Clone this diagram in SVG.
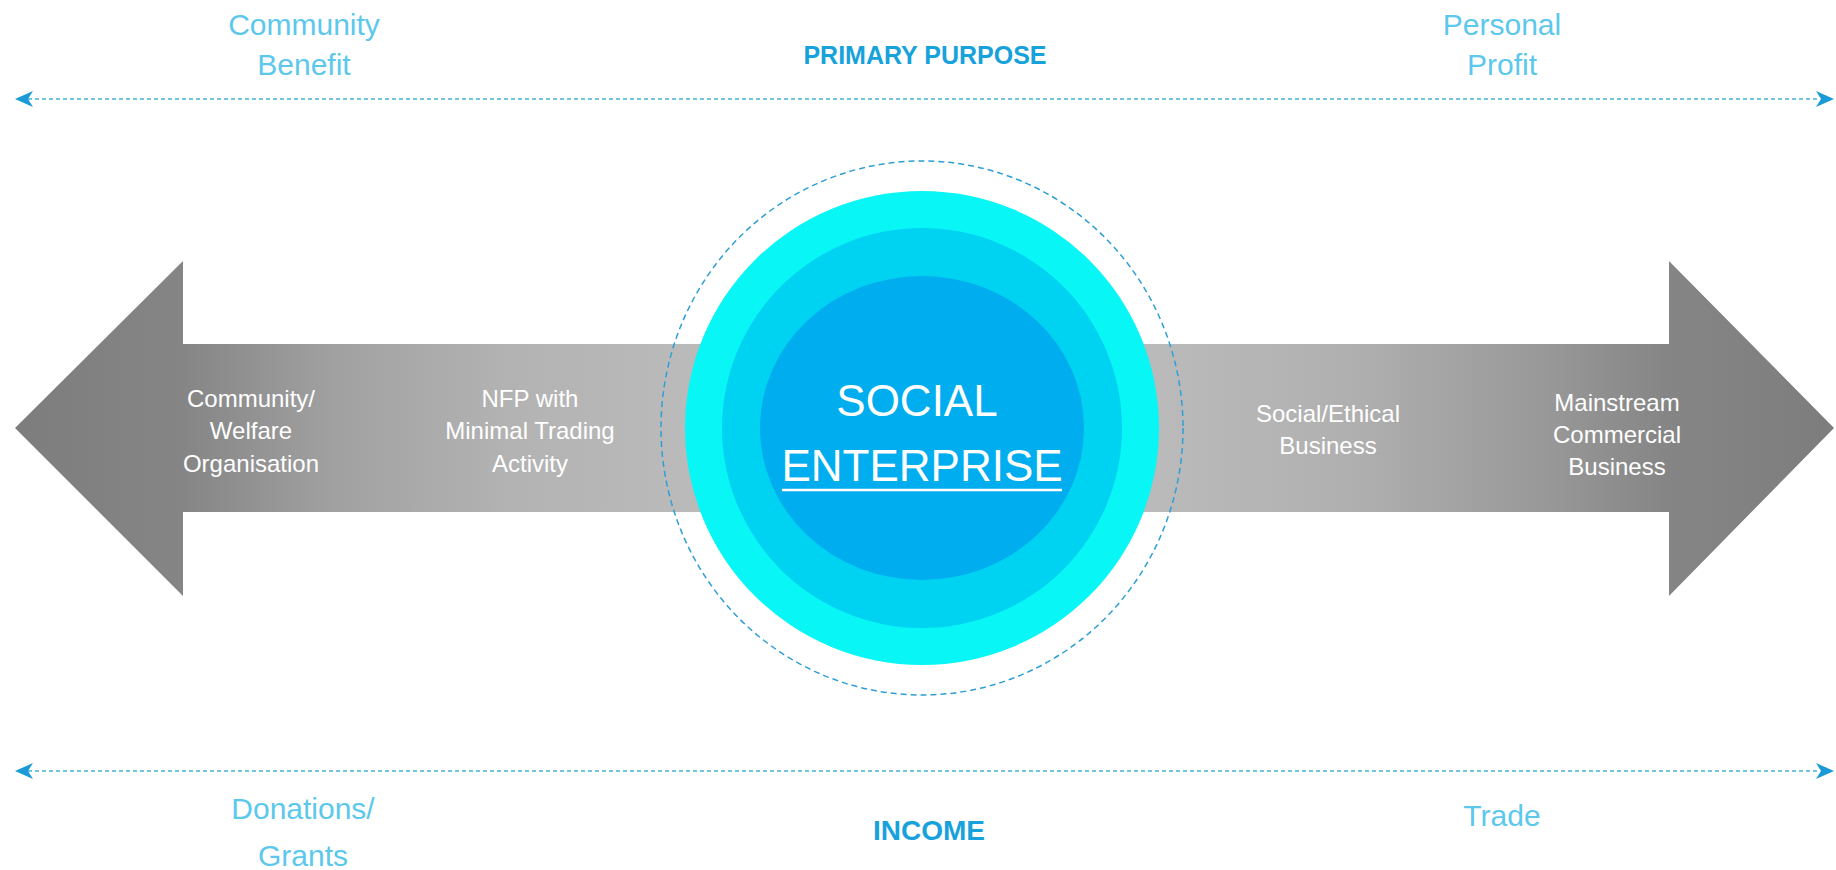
<svg xmlns="http://www.w3.org/2000/svg" width="1836" height="870" viewBox="0 0 1836 870">
  <defs>
    <linearGradient id="gray" gradientUnits="userSpaceOnUse" x1="15" y1="0" x2="1834" y2="0">
      <stop offset="0" stop-color="#7d7d7d"/>
      <stop offset="0.092" stop-color="#858585"/>
      <stop offset="0.173" stop-color="#a0a0a0"/>
      <stop offset="0.266" stop-color="#b2b2b2"/>
      <stop offset="0.365" stop-color="#bababa"/>
      <stop offset="0.629" stop-color="#bababa"/>
      <stop offset="0.734" stop-color="#b0b0b0"/>
      <stop offset="0.843" stop-color="#989898"/>
      <stop offset="0.909" stop-color="#858585"/>
      <stop offset="1" stop-color="#7d7d7d"/>
    </linearGradient>
  </defs>
  <style>
    .axis { fill: none; stroke: #45b0da; stroke-width: 1.5; stroke-dasharray: 4 3; }
    .head { fill: #1a9ad6; }
    .lbl { font-family: "Liberation Sans", Arial, sans-serif; font-size: 30px; fill: #5cc8ec; text-anchor: middle; }
    .ttl { font-family: "Liberation Sans", Arial, sans-serif; font-size: 28px; font-weight: bold; fill: #17a2dc; text-anchor: middle; }
    .arr { font-family: "Liberation Sans", Arial, sans-serif; font-size: 24px; fill: #ffffff; text-anchor: middle; }
    .se { font-family: "Liberation Sans", Arial, sans-serif; font-size: 44px; fill: #ffffff; text-anchor: middle; }
  </style>
  <rect width="1836" height="870" fill="#ffffff"/>

  <g id="connectors">
    <line class="axis" x1="28" y1="99" x2="1820" y2="99"/>
    <path class="head" d="M15,99 L33,91 L28,99 L33,107 Z"/>
    <path class="head" d="M1834,99 L1816,91 L1821,99 L1816,107 Z"/>
    <line class="axis" x1="28" y1="771" x2="1820" y2="771"/>
    <path class="head" d="M15,771 L33,763 L28,771 L33,779 Z"/>
    <path class="head" d="M1834,771 L1816,763 L1821,771 L1816,779 Z"/>
  </g>

  <g id="primary-purpose-labels">
    <text class="lbl" x="304" y="35">Community</text>
    <text class="lbl" x="304" y="75">Benefit</text>
    <text class="ttl" x="925" y="64" style="font-size:25px">PRIMARY PURPOSE</text>
    <text class="lbl" x="1502" y="35">Personal</text>
    <text class="lbl" x="1502" y="75">Profit</text>
  </g>

  <g id="spectrum-arrow">
    <path d="M15,428 L183,261 L183,344 L1669,344 L1669,261 L1834,428 L1669,596 L1669,512 L183,512 L183,596 Z" fill="url(#gray)"/>
  </g>

  <g id="community-welfare">
    <text class="arr" x="251" y="407">Community/</text>
    <text class="arr" x="251" y="439">Welfare</text>
    <text class="arr" x="251" y="472">Organisation</text>
  </g>
  <g id="nfp-minimal-trading">
    <text class="arr" x="530" y="407">NFP with</text>
    <text class="arr" x="530" y="439">Minimal Trading</text>
    <text class="arr" x="530" y="472">Activity</text>
  </g>
  <g id="social-ethical-business">
    <text class="arr" x="1328" y="422">Social/Ethical</text>
    <text class="arr" x="1328" y="454">Business</text>
  </g>
  <g id="mainstream-commercial">
    <text class="arr" x="1617" y="411">Mainstream</text>
    <text class="arr" x="1617" y="443">Commercial</text>
    <text class="arr" x="1617" y="475">Business</text>
  </g>

  <g id="social-enterprise">
    <ellipse cx="922" cy="428" rx="261" ry="267" fill="none" stroke="#2e9fd6" stroke-width="1.5" stroke-dasharray="6 4"/>
    <circle cx="922" cy="428" r="237" fill="#08f6f6"/>
    <circle cx="922" cy="428" r="200" fill="#00d3f2"/>
    <ellipse cx="922" cy="428" rx="162" ry="152" fill="#00adee"/>
    <text class="se" x="917" y="416">SOCIAL</text>
    <text class="se" x="922" y="481">ENTERPRISE</text>
    <line x1="782" y1="490" x2="1062" y2="490" stroke="#ffffff" stroke-width="2.5"/>
  </g>

  <g id="income-labels">
    <text class="lbl" x="303" y="819">Donations/</text>
    <text class="lbl" x="303" y="866">Grants</text>
    <text class="ttl" x="929" y="840">INCOME</text>
    <text class="lbl" x="1502" y="826">Trade</text>
  </g>
</svg>
